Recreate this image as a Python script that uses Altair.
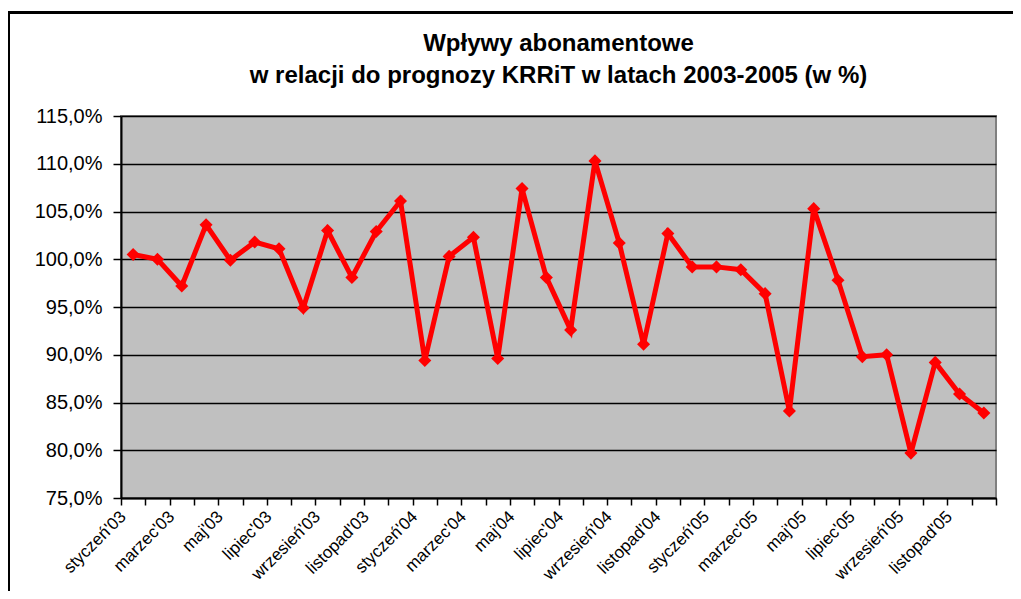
import altair as alt
import pandas as pd

months = ["styczeń", "luty", "marzec", "kwiecień", "maj", "czerwiec",
          "lipiec", "sierpień", "wrzesień", "październik", "listopad", "grudzień"]
years = ["03", "04", "05"]
categories = [f"{m}'{y}" for y in years for m in months]
shown_labels = [f"{m}'{y}" for y in years for m in months[::2]]

values = [100.5, 100.0, 97.2, 103.6, 99.9, 101.8, 101.1, 94.9, 103.0, 98.1, 102.9, 106.1,
          89.4, 100.3, 102.3, 89.6, 107.4, 98.1, 92.6, 110.3, 101.7, 91.1, 102.7, 99.2,
          99.2, 98.9, 96.4, 84.1, 105.3, 97.8, 89.8, 90.0, 79.7, 89.2, 85.9, 83.9]

df = pd.DataFrame({"miesiac": categories, "wartosc": values})

FONT = "Liberation Sans"
shown_js = "[" + ",".join("'" + s.replace("'", "\\'") + "'" for s in shown_labels) + "]"

x_enc = alt.X("miesiac:O", sort=categories,
              scale=alt.Scale(type="band", paddingInner=0, paddingOuter=0),
              axis=alt.Axis(title=None, labelAngle=-45, labelAlign="right", labelBaseline="top",
                            labelFontSize=17, labelFont=FONT, labelColor="black",
                            labelExpr=f"indexof({shown_js}, datum.value) >= 0 ? datum.value : ''",
                            labelOverlap=False, labelPadding=3, labelOffset=-16,
                            tickBand="extent", tickSize=7, tickColor="black", tickWidth=1.5,
                            domainColor="black", domainWidth=2, grid=False))
y_enc = alt.Y("wartosc:Q",
              scale=alt.Scale(domain=[75, 115], nice=False, zero=False),
              axis=alt.Axis(title=None, values=[75, 80, 85, 90, 95, 100, 105, 110, 115],
                            labelExpr="replace(format(datum.value, '.1f'), '.', ',') + '%'",
                            labelFontSize=20, labelFont=FONT, labelColor="black", labelPadding=11,
                            tickSize=8, tickColor="black", tickWidth=1.5,
                            domainColor="black", domainWidth=2,
                            grid=True, gridColor="black", gridWidth=1.5))

line = alt.Chart(df).mark_line(color="#FF0000", strokeWidth=5).encode(x=x_enc, y=y_enc)
pts = alt.Chart(df).mark_point(shape="diamond", filled=True, color="#FF0000", size=170, opacity=1).encode(
    x=alt.X("miesiac:O", sort=categories), y="wartosc:Q")

border = alt.Chart(df).mark_rect(fill=None, stroke="black", strokeWidth=2, clip=False).encode(
    x=alt.value(-112.5), x2=alt.value(920), y=alt.value(-103.5), y2=alt.value(520))

chart = alt.layer(line, pts, border).properties(
    width=875, height=382,
    title=alt.TitleParams(["Wpływy abonamentowe", "w relacji do prognozy KRRiT w latach 2003-2005 (w %)"],
                          font=FONT, fontSize=24, fontWeight="bold", color="black",
                          lineHeight=32, anchor="middle", frame="group", offset=-76),
    padding={"left": 113, "top": 108, "right": 17, "bottom": 93},
    autosize=alt.AutoSizeParams(type="none"),
    background="white",
).configure_view(fill="#C0C0C0", stroke="#808080", strokeWidth=2)

chart.save("out.html", embed_options={"renderer": "svg", "actions": False})
